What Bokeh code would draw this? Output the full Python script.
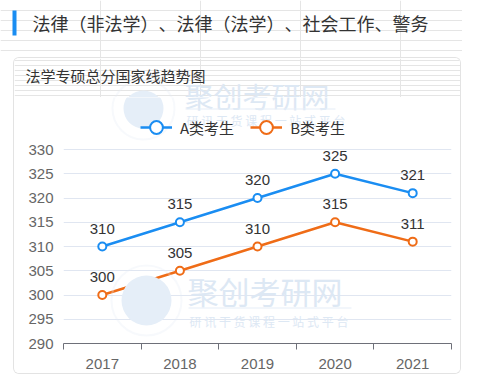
from bokeh.plotting import figure
from bokeh.layouts import column
from bokeh.models import (Label, BoxAnnotation, Legend, LegendItem, FixedTicker,
                          ColumnDataSource, LabelSet)
from bokeh.core.properties import value
from bokeh.embed import file_html
from bokeh.resources import INLINE

# ---- data ----
years = ["2017", "2018", "2019", "2020", "2021"]
a_scores = [310, 315, 320, 325, 321]
b_scores = [300, 305, 310, 315, 311]
y_ticks = [290, 295, 300, 305, 310, 315, 320, 325, 330]
series_names = ["A类考生", "B类考生"]
heading = "法律（非法学）、法律（法学）、社会工作、警务"
card_title = "法学专硕总分国家线趋势图"
wm_title = "聚创考研网"
wm_sub = "研 讯 干 货 课 程 一 站 式 平 台"

BLUE = "#1a8df2"
ORANGE = "#ef6c17"
CJK = "Noto Sans CJK SC"
NUM = "Liberation Sans"
WM = "#dde8f4"
BORDER = "1px solid #e3e3e3"

# page-pixel layout
W = 462
HEAD_H = 57
CARD_X = 13
CARD_IN_X = 14
CARD_W_IN = 448
TITLE_Y0, TITLE_H = 58, 40
CHART_Y0, CHART_H = 98, 277
FL, FR, FT, FB = 63, 451, 150, 344      # plot area for the y_ticks span

def styl(f):
    f.background_fill_color = "white"
    f.border_fill_color = "white"
    f.outline_line_color = None
    return f

def plain_fig(w, h, x0, y0, **kw):
    f = figure(width=w, height=h, output_backend="svg", toolbar_location=None,
               x_range=(x0, x0 + w), y_range=(y0 + h, y0),
               x_axis_location=None, y_axis_location=None, min_border=0,
               frame_align=False, **kw)
    return styl(f)

def cbox(f, ox, oy, l, t, r, b, **kw):
    f.add_layout(BoxAnnotation(left=l - ox, right=r - ox, top=t - oy, bottom=b - oy,
                               left_units="canvas", right_units="canvas",
                               top_units="canvas", bottom_units="canvas", **kw))

def add_watermark(f, ox, oy, lab):
    for cx, cy, r1, r2 in [(142, 109, 31, 20), (145, 301, 35, 25)]:
        cbox(f, ox, oy, cx - r1, cy - r1, cx + r1, cy + r1, fill_color=None,
             line_color="#e3ecf6", line_width=2, border_radius=r1)
        cbox(f, ox, oy, cx - r2, cy - r2, cx + r2, cy + r2, fill_color="#e5eef8",
             fill_alpha=1, line_color=None, border_radius=r2)
    for x, y, t, s in [(184, 95, wm_title, 29), (186, 121, wm_sub, 12),
                       (187, 291, wm_title, 31), (189, 322, wm_sub, 12)]:
        lab(f, x, y, t, s, WM)
    cbox(f, ox, oy, 184, 109, 334, 110, fill_color="#e6eef7", fill_alpha=1, line_color=None)
    cbox(f, ox, oy, 187, 308, 350, 309, fill_color="#e6eef7", fill_alpha=1, line_color=None)

def data_label(f, x, y, t, s, color, font=CJK):
    f.add_layout(Label(x=x, y=y, text=t, text_font=font, text_font_size=f"{s}px",
                       text_color=color, text_baseline="middle"))

# ---- header ----
head = plain_fig(W, HEAD_H, 0, 0, styles={"text-spacing-trim": "space-all"})
cbox(head, 0, 0, 12, 10, 16, 35, fill_color=BLUE, fill_alpha=1, line_color=None)
data_label(head, 32, 22, heading, 18, "#333333")

# ---- card title (top part of the card) ----
tfig = plain_fig(CARD_W_IN, TITLE_H, CARD_IN_X, TITLE_Y0, margin=(0, 0, 0, CARD_X),
                 styles={"border": BORDER, "border-bottom": "none",
                         "border-radius": "6px 6px 0 0", "overflow": "hidden"})
add_watermark(tfig, CARD_IN_X, TITLE_Y0, data_label)
data_label(tfig, 25, 75, card_title, 15, "#333333")
cbox(tfig, CARD_IN_X, TITLE_Y0, 0, 97, 470, 98, fill_color="#e6e6e6", fill_alpha=1, line_color=None)

# ---- chart (rest of the card) ----
px_per_unit = (FB - FT) / (y_ticks[-1] - y_ticks[0])
y_top = y_ticks[-1] + (FT - CHART_Y0) / px_per_unit

p = figure(width=CARD_W_IN, height=CHART_H, output_backend="svg", toolbar_location=None,
           x_range=(0, len(years)), y_range=(y_ticks[0], y_top), frame_align=False,
           min_border_left=FL - CARD_IN_X, min_border_right=CARD_IN_X + CARD_W_IN - FR,
           min_border_top=0, min_border_bottom=CHART_Y0 + CHART_H - FB,
           margin=(0, 0, 0, CARD_X),
           styles={"border": BORDER, "border-top": "none",
                   "border-radius": "0 0 6px 6px", "overflow": "hidden"})
styl(p)

def frame_label(f, x, y, t, s, color, font=CJK):
    f.add_layout(Label(x=x - FL, y=FB - y, x_units="screen", y_units="screen", text=t,
                       text_font=font, text_font_size=f"{s}px", text_color=color,
                       text_baseline="middle", level="underlay"))

add_watermark(p, CARD_IN_X, CHART_Y0, frame_label)

xs = [i + 0.5 for i in range(len(years))]
src = ColumnDataSource(dict(x=xs, a=a_scores, b=b_scores,
                            a_lbl=[str(v) for v in a_scores],
                            b_lbl=[str(v) for v in b_scores]))

xa = p.xaxis[0]
xa.ticker = FixedTicker(ticks=xs, minor_ticks=list(range(len(years) + 1)))
xa.major_label_overrides = {x: y for x, y in zip(xs, years)}
xa.major_tick_in = 0
xa.major_tick_out = 0
xa.minor_tick_in = 0
xa.minor_tick_out = 6
xa.minor_tick_line_color = "#6e7079"
xa.axis_line_color = "#6e7079"
xa.major_label_text_font = NUM
xa.major_label_text_font_size = "15px"
xa.major_label_text_color = "#666666"
xa.major_label_standoff = 9

ya = p.yaxis[0]
ya.ticker = FixedTicker(ticks=y_ticks)
ya.axis_line_color = None
ya.major_tick_in = 0
ya.major_tick_out = 0
ya.minor_tick_line_color = None
ya.major_label_text_font = NUM
ya.major_label_text_font_size = "15px"
ya.major_label_text_color = "#666666"
ya.major_label_standoff = 10

p.xgrid.visible = False
p.ygrid.ticker = FixedTicker(ticks=y_ticks)
p.ygrid.grid_line_color = "#e0e6f1"

ra = p.line("x", "a", source=src, line_color=BLUE, line_width=2.5)
sa = p.scatter("x", "a", source=src, size=8, fill_color="white", line_color=BLUE, line_width=2)
rb = p.line("x", "b", source=src, line_color=ORANGE, line_width=2.5)
sb = p.scatter("x", "b", source=src, size=8, fill_color="white", line_color=ORANGE, line_width=2)

for col in ("a", "b"):
    p.add_layout(LabelSet(x="x", y=col, text=col + "_lbl", source=src, y_offset=13,
                          text_align="center", text_baseline="alphabetic",
                          text_font=value(NUM), text_font_size="15px",
                          text_color="#333333"))

legend = Legend(items=[LegendItem(label=series_names[0], renderers=[ra, sa]),
                       LegendItem(label=series_names[1], renderers=[rb, sb])],
                orientation="horizontal", location=(140 - FL, FB - 145),
                glyph_width=32, glyph_height=34, label_standoff=8, spacing=16,
                padding=0, margin=0, background_fill_alpha=0, border_line_color=None,
                label_text_font=CJK, label_text_font_size="15px", label_text_color="#333333")
p.add_layout(legend, "center")

root = column(head, tfig, p, styles={"background-color": "white"})

open("out.html", "w").write(file_html(root, INLINE))
